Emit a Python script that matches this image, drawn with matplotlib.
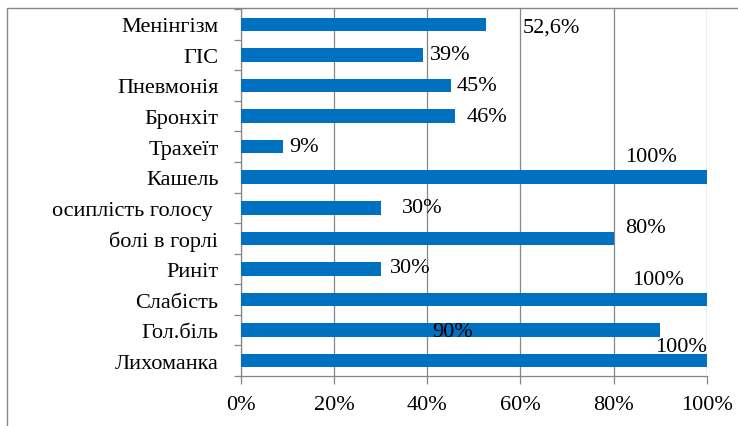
import matplotlib.pyplot as plt
from matplotlib.patches import Rectangle
from matplotlib.ticker import FuncFormatter, MultipleLocator

plt.rcParams['font.family'] = ['Liberation Serif', 'DejaVu Serif']

# symptoms / complications, bottom to top
categories = ['Лихоманка', 'Гол.біль', 'Слабість', 'Риніт', 'болі в горлі',
              'осиплість голосу ', 'Кашель', 'Трахеїт', 'Бронхіт', 'Пневмонія',
              'ГІС', 'Менінгізм']
values = [100, 90, 100, 30, 80, 30, 100, 9, 46, 45, 39, 52.6]

# where each value label sits: left edge (in %) and vertical shift (in rows)
label_x = [88.8, 41.0, 83.9, 32.0, 82.4, 34.6, 82.4, 10.4, 48.5, 46.2, 40.6, 60.5]
label_dy = [0.45, -0.06, 0.67, 0.06, 0.34, 0.0, 0.69, 0.0, 0.0, 0.0, 0.0, -0.09]

bar_color = '#0070C0'
line_color = '#868686'
fs = 16

fig = plt.figure(figsize=(7.38, 4.27), dpi=100)
# chart-area frame
fig.patches.append(Rectangle((7 / 738, -0.1), 1.1, 1 - 9 / 427 + 0.1,
                             transform=fig.transFigure, fill=False,
                             edgecolor=line_color, linewidth=1.0))

ax = fig.add_axes([240.7 / 738, 1 - 377 / 427, 466.3 / 738, 367 / 427])

y = list(range(len(categories)))
ax.barh(y, values, height=0.44, color=bar_color, zorder=3)

for i, v in enumerate(values):
    txt = f'{v:g}%'.replace('.', ',')
    ax.text(label_x[i], i + label_dy[i], txt, ha='left', va='center',
            fontsize=fs, zorder=4)

ax.set_xlim(0, 100)
ax.set_ylim(-0.5, len(categories) - 0.5)

ax.xaxis.set_major_locator(MultipleLocator(20))
ax.xaxis.set_major_formatter(FuncFormatter(lambda x, _: f'{x:.0f}%'))
ax.grid(axis='x', color=line_color, linewidth=0.9, zorder=0)

ax.set_yticks(y)
ax.set_yticklabels(categories, fontsize=fs)
ax.set_yticks([i - 0.5 for i in range(len(categories) + 1)], minor=True)
ax.tick_params(axis='y', which='major', length=0, pad=16)
ax.tick_params(axis='y', which='minor', length=5, color=line_color, width=0.9)
ax.tick_params(axis='x', length=6, color=line_color, width=0.9, pad=8,
               labelsize=fs)

for side in ['top', 'right']:
    ax.spines[side].set_visible(False)
for side in ['left', 'bottom']:
    ax.spines[side].set_color(line_color)
    ax.spines[side].set_linewidth(0.9)

fig.savefig('out.png', dpi=100)
